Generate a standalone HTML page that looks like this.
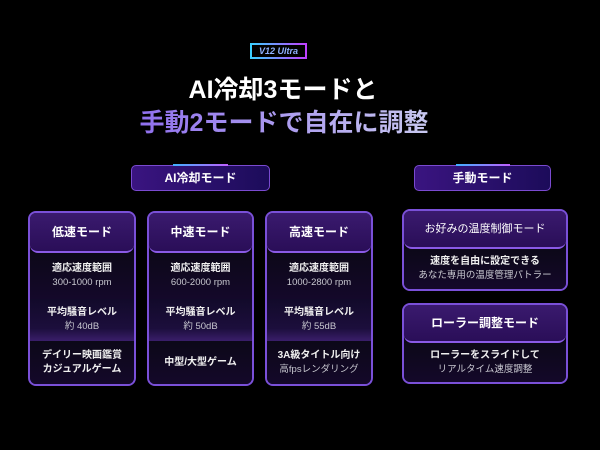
<!DOCTYPE html>
<html><head><meta charset="utf-8"><style>
*{margin:0;padding:0;box-sizing:border-box}
body{width:600px;height:450px;background:#000;overflow:hidden;position:relative;font-family:"Liberation Sans","Noto Sans CJK JP",sans-serif;color:#fff}
.a{position:absolute}
.badge{left:250px;top:43px;width:57px;height:16px;border:2px solid;border-image:linear-gradient(90deg,#3ad0ff,#c040ff) 1;font-size:9px;font-weight:bold;line-height:12px;color:#8fb0ff;text-align:center;font-style:italic}
.t1{left:0;width:566px;top:74px;font-size:25px;font-weight:bold;text-align:center;line-height:32px}
.t2{left:0;width:568px;top:107px;font-size:25px;font-weight:bold;text-align:center;line-height:32px}
.t2 span{background:linear-gradient(90deg,#9070ee,#c8c8f0);-webkit-background-clip:text;color:transparent}
.grp{height:26px;top:165px;background:linear-gradient(90deg,#3a1480,#1c0c5a);border:1px solid #7a4ad0;border-radius:5px;font-size:12px;line-height:24px;text-align:center;font-weight:bold}
.grp::before{content:"";position:absolute;left:30%;right:30%;top:-2px;height:2px;background:linear-gradient(90deg,#40b0ff,#c060ff)}
.col{border:2px solid #7a50d8;border-radius:8px;background:#0a0614;overflow:hidden}
.hd{background:linear-gradient(180deg,#3a1a6e,#2a0e58);border-bottom:2px solid #8a5ae6;border-radius:0 0 8px 8px;font-weight:bold;font-size:12px;text-align:center}
.r{text-align:center;font-size:10px;line-height:14px;display:flex;flex-direction:column;justify-content:center}
.r b{font-weight:bold;color:#f0f0f0}
.r i{font-style:normal;color:#c8c8d0;font-size:9.5px}
.mid{background:linear-gradient(180deg,#120a2a,#1c0e3c 70%,#3a1e6a)}
.dk{background:linear-gradient(180deg,#0c0818,#14082a)}
</style></head><body>
<div class="a badge">V12 Ultra</div>
<div class="a t1">AI冷却3モードと</div>
<div class="a t2"><span>手動2モードで自在に調整</span></div>

<div class="a grp" style="left:131px;width:139px">AI冷却モード</div>
<div class="a grp" style="left:414px;width:137px">手動モード</div>

<div class="a col" style="left:28px;top:211px;width:108px;height:175px">
 <div class="hd" style="height:40px;line-height:38px">低速モード</div>
 <div class="r dk" style="height:46px"><b>適応速度範囲</b><i>300-1000 rpm</i></div>
 <div class="r mid" style="height:42px"><b>平均騒音レベル</b><i>約 40dB</i></div>
 <div class="r dk" style="height:44px"><b>デイリー映画鑑賞</b><b>カジュアルゲーム</b></div>
</div>
<div class="a col" style="left:147px;top:211px;width:107px;height:175px">
 <div class="hd" style="height:40px;line-height:38px">中速モード</div>
 <div class="r dk" style="height:46px"><b>適応速度範囲</b><i>600-2000 rpm</i></div>
 <div class="r mid" style="height:42px"><b>平均騒音レベル</b><i>約 50dB</i></div>
 <div class="r dk" style="height:44px"><b>中型/大型ゲーム</b></div>
</div>
<div class="a col" style="left:265px;top:211px;width:108px;height:175px">
 <div class="hd" style="height:40px;line-height:38px">高速モード</div>
 <div class="r dk" style="height:46px"><b>適応速度範囲</b><i>1000-2800 rpm</i></div>
 <div class="r mid" style="height:42px"><b>平均騒音レベル</b><i>約 55dB</i></div>
 <div class="r dk" style="height:44px"><b>3A級タイトル向け</b><i>高fpsレンダリング</i></div>
</div>

<div class="a col" style="left:402px;top:209px;width:166px;height:82px">
 <div class="hd" style="height:38px;line-height:36px;font-weight:normal;font-size:11px">お好みの温度制御モード</div>
 <div class="r dk" style="height:40px"><b>速度を自由に設定できる</b><i>あなた専用の温度管理パトラー</i></div>
</div>
<div class="a col" style="left:402px;top:303px;width:166px;height:81px">
 <div class="hd" style="height:38px;line-height:36px">ローラー調整モード</div>
 <div class="r dk" style="height:40px"><b>ローラーをスライドして</b><i>リアルタイム速度調整</i></div>
</div>
</body></html>
